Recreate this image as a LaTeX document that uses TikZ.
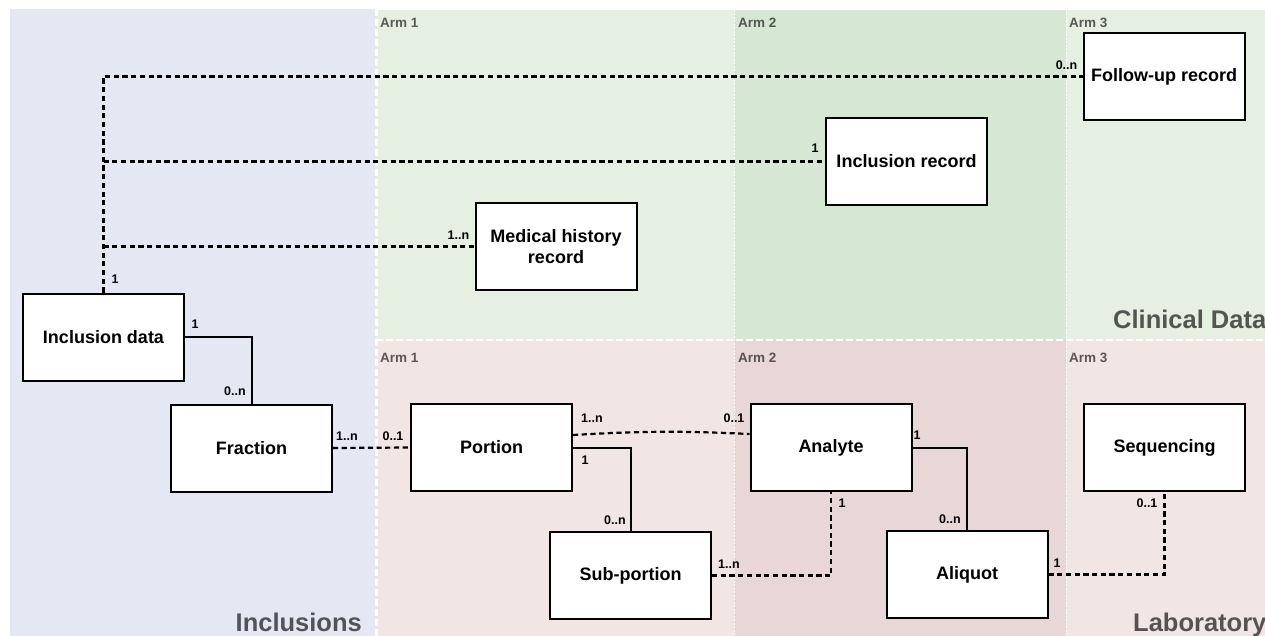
\documentclass[tikz,border=0pt]{standalone}
\usepackage{fontspec}
\setmainfont{Liberation Sans}
\usetikzlibrary{calc}
\definecolor{inclbg}{HTML}{E3E8F3}
\definecolor{clinA}{HTML}{E5EFE2}
\definecolor{clinB}{HTML}{D6E8D3}
\definecolor{labA}{HTML}{F1E6E4}
\definecolor{labB}{HTML}{E9D7D7}
\tikzset{
  entity/.style={draw=black, line width=2pt, fill=white, minimum width=161pt, minimum height=87pt,
    inner sep=2pt, align=center, font=\fontsize{18}{21}\selectfont\bfseries},
  dashline/.style={draw=black, line width=2.2pt, dash pattern=on 5.2pt off 3.5pt},
  solidline/.style={draw=black, line width=2pt},
  mult/.style={inner sep=0pt, font=\fontsize{12.5}{14}\selectfont\bfseries},
  armlabel/.style={inner sep=0pt, anchor=base west, text=black, text opacity=0.62, font=\fontsize{13.5}{15}\selectfont\bfseries},
  biglabel/.style={inner sep=0pt, anchor=base west, text=black, text opacity=0.64, font=\fontsize{25.5}{28}\selectfont\bfseries},
}
\begin{document}
\begin{tikzpicture}[x=1pt,y=-1pt]
\useasboundingbox (0,0) rectangle (1265,636);
\begin{scope}
\clip (0,0) rectangle (1265,636);
% panels
\fill[inclbg] (10,9) rectangle (376,640);
\fill[clinA] (376,10) rectangle (734,340);
\fill[clinB] (734,10) rectangle (1066,340);
\fill[clinA] (1066,10) rectangle (1270,340);
\fill[labA] (376,340) rectangle (734,640);
\fill[labB] (734,340) rectangle (1066,640);
\fill[labA] (1066,340) rectangle (1270,640);
% separators
\draw[white, line width=0.8pt, dash pattern=on 2pt off 1.5pt] (734,10) -- (734,640);
\draw[white, line width=0.8pt, dash pattern=on 2pt off 1.5pt] (1066,10) -- (1066,640);
\draw[white, line width=2.5pt, dash pattern=on 7pt off 3pt] (376,340) -- (1270,340);
\draw[white, line width=3pt, dash pattern=on 7pt off 3pt] (376,9) -- (376,640);
% panel labels
\node[armlabel] (arm1c) at (380,28) {Arm 1};
\node[armlabel] (arm2c) at (738,28) {Arm 2};
\node[armlabel] (arm3c) at (1069,28) {Arm 3};
\node[armlabel] (arm1l) at (380,362) {Arm 1};
\node[armlabel] (arm2l) at (738,362) {Arm 2};
\node[armlabel] (arm3l) at (1069,362) {Arm 3};
\node[biglabel] (lblincl) at (235.5,631) {Inclusions};
\node[biglabel] (lblclin) at (1113,328) {Clinical Data};
\node[biglabel] (lbllab) at (1133,631) {Laboratory};
\end{scope}
% entities
\node[entity] (incl) at (103.5,337) {Inclusion data};
\node[entity] (frac) at (251.5,448) {Fraction};
\node[entity] (med) at (556,246.5) {Medical history\\record};
\node[entity] (increc) at (906.5,161.5) {Inclusion record};
\node[entity] (follow) at (1164,76.5) {Follow-up record};
\node[entity] (portion) at (491.5,447.5) {Portion};
\node[entity] (subp) at (630.5,575.5) {Sub-portion};
\node[entity] (analyte) at (831,447.5) {Analyte};
\node[entity] (aliquot) at (967,574.5) {Aliquot};
\node[entity] (seq) at (1164.5,447.5) {Sequencing};
% connectors
\coordinate (b1) at (incl.north |- increc.west);
\coordinate (b2) at (incl.north |- med.west);
\draw[dashline] (incl.north) |- (follow.west);
\draw[dashline] (b1) -- (increc.west);
\draw[dashline] (b2) -- (med.west);
\draw[solidline] (incl.east) -| (frac.north);
\draw[dashline] (frac.east) -- (portion.west);
\draw[dashline] ([yshift=12.5pt]portion.east) to[bend left=3] ([yshift=13.5pt]analyte.west);
\draw[solidline] (portion.east) -| (subp.north);
\draw[dashline] (subp.east) -| (analyte.south);
\draw[solidline] (analyte.east) -| (aliquot.north);
\draw[dashline] (aliquot.east) -| (seq.south);
% multiplicities
\node[mult] (m1) at (115,279) {1};
\node[mult] (m2) at (1066.5,65) {0..n};
\node[mult] (m3) at (815,148) {1};
\node[mult] (m4) at (458.5,235) {1..n};
\node[mult] (m5) at (195,324) {1};
\node[mult] (m6) at (235,391) {0..n};
\node[mult] (m7) at (347,436) {1..n};
\node[mult] (m8) at (393,436) {0..1};
\node[mult] (m9) at (592,418) {1..n};
\node[mult] (m10) at (734,418) {0..1};
\node[mult] (m11) at (585,460) {1};
\node[mult] (m12) at (615,520) {0..n};
\node[mult] (m13) at (729,564) {1..n};
\node[mult] (m14) at (917,435) {1};
\node[mult] (m15) at (842,503) {1};
\node[mult] (m16) at (950,519) {0..n};
\node[mult] (m17) at (1057,563) {1};
\node[mult] (m18) at (1147,503) {0..1};
\end{tikzpicture}
\end{document}
